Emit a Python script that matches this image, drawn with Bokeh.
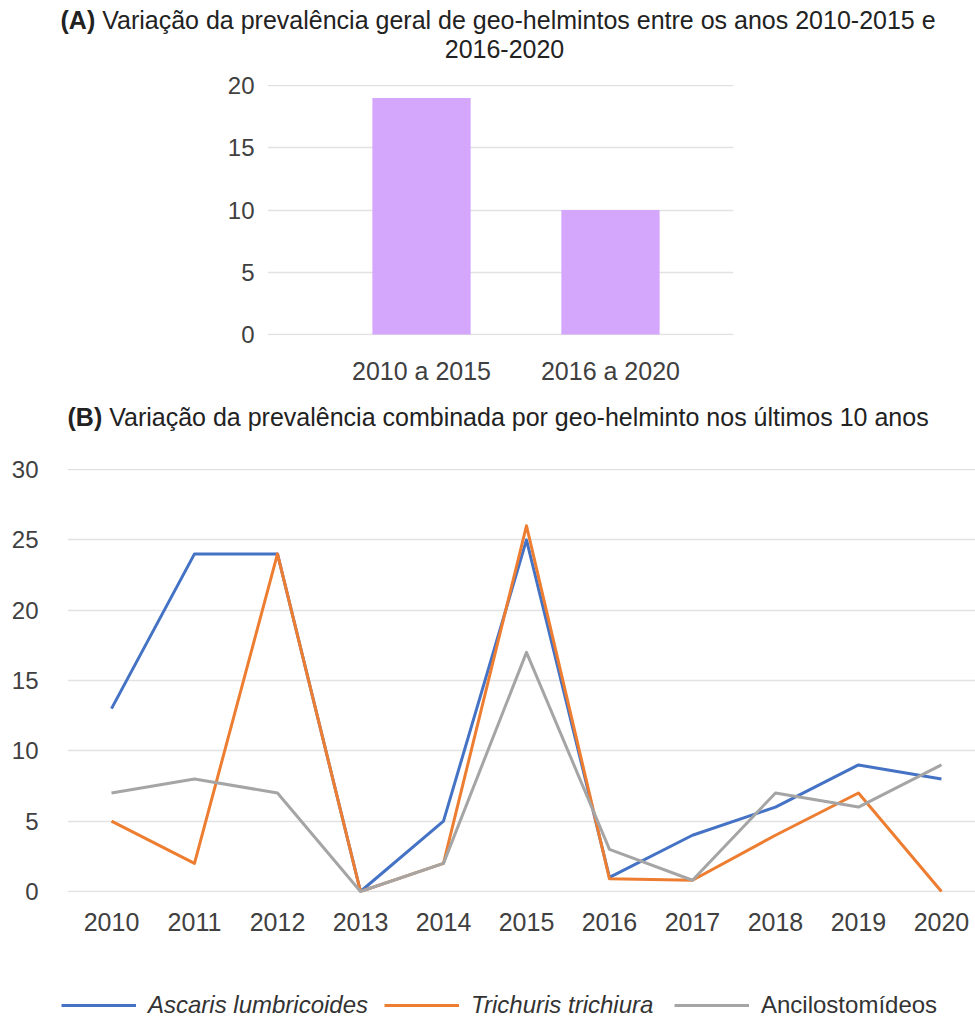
from bokeh.plotting import figure
from bokeh.models import Label, Legend, LegendItem, FixedTicker, Range1d
from bokeh.embed import file_html
from bokeh.resources import INLINE

# ---------------- data ----------------
periods = ["2010 a 2015", "2016 a 2020"]
overall_prevalence = [19, 10]

years = [2010, 2011, 2012, 2013, 2014, 2015, 2016, 2017, 2018, 2019, 2020]
ascaris = [13, 24, 24, 0, 5, 25, 1, 4, 6, 9, 8]
trichuris = [5, 2, 24, 0, 2, 26, 0.9, 0.8, 4, 7, 0]
ancilostomideos = [7, 8, 7, 0, 2, 17, 3, 0.8, 7, 6, 9]

series_names = ["Ascaris lumbricoides", "Trichuris trichiura", "Ancilostomídeos"]
series_colors = ["#4472C4", "#ED7D31", "#A5A5A5"]

ticks_a = [0, 5, 10, 15, 20]
ticks_b = [0, 5, 10, 15, 20, 25, 30]

title_a_prefix = "(A)"
title_a_line1 = "Variação da prevalência geral de geo-helmintos entre os anos 2010-2015 e"
title_a_line2 = "2016-2020"
title_b_prefix = "(B)"
title_b_text = "Variação da prevalência combinada por geo-helminto nos últimos 10 anos"

FONT = "Liberation Sans"
TICK_COLOR = "#404040"
TITLE_COLOR = "#222222"
GRID_COLOR = "#e2e2e2"
W = 975


def text_fig(h):
    f = figure(width=W, height=h, x_range=Range1d(0, W), y_range=Range1d(h, 0),
               x_axis_type=None, y_axis_type=None, min_border=0,
               output_backend="svg", toolbar_location=None)
    f.outline_line_color = None
    return f


def label(f, x, y, text, bold=False, align="left", size="25px"):
    f.add_layout(Label(x=x, y=y, text=text, text_font=FONT, text_font_size=size,
                       text_font_style="bold" if bold else "normal",
                       text_color=TITLE_COLOR, text_align=align,
                       text_baseline="alphabetic"))


def style_axes(p, x_standoff, y_standoff):
    p.outline_line_color = None
    p.xgrid.grid_line_color = None
    p.ygrid.grid_line_color = GRID_COLOR
    p.ygrid.grid_line_width = 1.5
    for ax in (p.xaxis[0], p.yaxis[0]):
        ax.axis_line_color = None
        ax.major_tick_line_color = None
        ax.minor_tick_line_color = None
        ax.major_label_text_font = FONT
        ax.major_label_text_color = TICK_COLOR
    p.xaxis[0].major_label_text_font_size = "25px"
    p.yaxis[0].major_label_text_font_size = "24px"
    p.xaxis[0].major_label_standoff = x_standoff
    p.yaxis[0].major_label_standoff = y_standoff


# ---------------- title A ----------------
ta = text_fig(64)
label(ta, 60, 19, title_a_prefix, bold=True)
label(ta, 101.7, 19, title_a_line1)
label(ta, 504, 48, title_a_line2, align="center")

# ---------------- chart A ----------------
pos = list(range(len(periods)))
pa = figure(width=W, height=331, output_backend="svg", toolbar_location=None,
            x_range=Range1d(-0.815, 1.651), y_range=Range1d(-0.08, 20.08),
            min_border_left=267, min_border_right=W - 733,
            min_border_top=20, min_border_bottom=60)
pa.vbar(x=pos, top=overall_prevalence, width=0.52, color="#d4a7fc", line_color=None)
pa.xaxis.ticker = FixedTicker(ticks=pos)
pa.xaxis.major_label_overrides = {i: lab for i, lab in enumerate(periods)}
pa.yaxis.ticker = FixedTicker(ticks=ticks_a)
style_axes(pa, 15, 7)

# ---------------- title B ----------------
tb = text_fig(45)
label(tb, 67, 21, title_b_prefix, bold=True)
label(tb, 108.7, 21, title_b_text)

# ---------------- chart B ----------------
pb = figure(width=W, height=520, output_backend="svg", toolbar_location=None,
            x_range=Range1d(2009.47, 2020.41), y_range=Range1d(-0.071, 30.071),
            min_border_left=67, min_border_right=0,
            min_border_top=28, min_border_bottom=68)
series = [ascaris, trichuris, ancilostomideos]
for vals, col in zip(series, series_colors):
    pb.line(years, vals, line_color=col, line_width=3, line_join="round")
pb.xaxis.ticker = FixedTicker(ticks=years)
pb.yaxis.ticker = FixedTicker(ticks=ticks_b)
style_axes(pb, 14, 23)

# ---------------- legend (separate strip) ----------------
LH = 59
lf = figure(width=W, height=LH, x_range=Range1d(0, W), y_range=Range1d(0, LH),
            x_axis_type=None, y_axis_type=None, min_border=0,
            output_backend="svg", toolbar_location=None)
lf.outline_line_color = None
# same series drawn here only to give the legend its line samples (off the visible range)
legend_renderers = [lf.line(years, vals, line_color=col, line_width=3)
                    for vals, col in zip(series, series_colors)]


def make_legend(items, loc, style):
    return Legend(items=items, location=loc, orientation="horizontal",
                  border_line_color=None, background_fill_alpha=0,
                  padding=0, margin=0, spacing=16, glyph_width=75, glyph_height=20,
                  label_height=20, label_standoff=12, label_text_font=FONT,
                  label_text_font_size="24px", label_text_font_style=style,
                  label_text_color="#333333")


leg1 = make_legend([LegendItem(label=series_names[0], renderers=[legend_renderers[0]]),
                    LegendItem(label=series_names[1], renderers=[legend_renderers[1]])],
                   (61, 0), "italic")
leg2 = make_legend([LegendItem(label=series_names[2], renderers=[legend_renderers[2]])],
                   (674, 0), "normal")
lf.add_layout(leg1)
lf.add_layout(leg2)

open("out.html", "w").write(file_html([ta, pa, tb, pb, lf], INLINE))
